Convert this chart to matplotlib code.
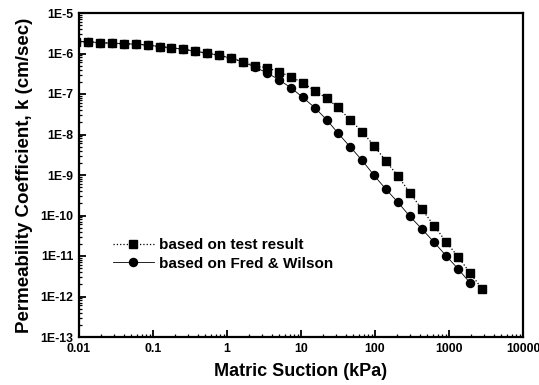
import numpy as np
import matplotlib
matplotlib.use('Agg')
import matplotlib.pyplot as plt
from matplotlib.ticker import FixedLocator, FuncFormatter, LogLocator, NullFormatter

plt.rcParams['font.family'] = ['Liberation Sans', 'DejaVu Sans']
plt.rcParams['font.weight'] = 'bold'

## data
# matric suction (kPa)
suction = [0.0091, 0.0132, 0.0192, 0.0279, 0.0406, 0.0589, 0.0855, 0.124, 0.175,
           0.254, 0.369, 0.537, 0.780, 1.13, 1.64, 2.39, 3.47, 5.04, 7.33, 10.6,
           15.5, 22.4, 31.6, 45.9, 66.7, 96.9, 141, 205, 297, 432, 627, 910,
           1323, 1922, 2792]

# based on test result (cm/sec)
k_test = [1.96e-6, 1.96e-6, 1.85e-6, 1.80e-6, 1.75e-6, 1.70e-6, 1.61e-6, 1.48e-6, 1.39e-6,
          1.28e-6, 1.14e-6, 1.02e-6, 9.07e-7, 7.64e-7, 6.26e-7, 4.98e-7, 4.44e-7, 3.54e-7,
          2.66e-7, 1.88e-7, 1.19e-7, 7.78e-8, 4.65e-8, 2.34e-8, 1.18e-8, 5.31e-9, 2.19e-9,
          9.29e-10, 3.62e-10, 1.41e-10, 5.65e-11, 2.26e-11, 9.61e-12, 3.85e-12, 1.55e-12]

# based on Fred & Wilson (cm/sec), one point fewer
k_fw = [1.96e-6, 1.96e-6, 1.85e-6, 1.80e-6, 1.75e-6, 1.70e-6, 1.61e-6, 1.48e-6, 1.39e-6,
        1.28e-6, 1.14e-6, 1.02e-6, 9.07e-7, 7.64e-7, 6.26e-7, 4.57e-7, 3.34e-7, 2.24e-7,
        1.42e-7, 8.24e-8, 4.52e-8, 2.28e-8, 1.08e-8, 5.01e-9, 2.32e-9, 9.84e-10, 4.42e-10,
        2.10e-10, 9.45e-11, 4.62e-11, 2.20e-11, 1.02e-11, 4.84e-12, 2.17e-12]

x_ticks = [0.01, 0.1, 1, 10, 100, 1000, 10000]
x_labels = ['0.01', '0.1', '1', '10', '100', '1000', '10000']
y_ticks = [1e-13, 1e-12, 1e-11, 1e-10, 1e-9, 1e-8, 1e-7, 1e-6, 1e-5]
y_labels = ['1E-13', '1E-12', '1E-11', '1E-10', '1E-9', '1E-8', '1E-7', '1E-6', '1E-5']

fig = plt.figure(figsize=(5.39, 3.85), dpi=100)
ax = fig.add_axes([79/539, 48/385, 444/539, 324/385])

ax.plot(suction, k_test, color='black', linestyle=':', linewidth=0.9,
        marker='s', markersize=5.2, label='based on test result')
ax.plot(suction[:len(k_fw)], k_fw, color='black', linestyle='-', linewidth=0.6,
        marker='o', markersize=5.8, label='based on Fred & Wilson')

ax.set_xscale('log')
ax.set_yscale('log')
ax.set_xlim(0.01, 10000)
ax.set_ylim(1e-13, 1e-5)

ax.xaxis.set_major_locator(FixedLocator(x_ticks))
ax.xaxis.set_major_formatter(FuncFormatter(lambda v, p: x_labels[x_ticks.index(v)] if v in x_ticks else ''))
ax.yaxis.set_major_locator(FixedLocator(y_ticks))
ax.yaxis.set_major_formatter(FuncFormatter(lambda v, p: y_labels[int(round(np.log10(v))) + 13]))
ax.xaxis.set_minor_locator(LogLocator(base=10, subs=np.arange(2, 10), numticks=20))
ax.yaxis.set_minor_locator(LogLocator(base=10, subs=np.arange(2, 10), numticks=20))
ax.xaxis.set_minor_formatter(NullFormatter())
ax.yaxis.set_minor_formatter(NullFormatter())

ax.tick_params(which='major', direction='in', length=5, width=1.3, labelsize=8.8, pad=4)
ax.tick_params(which='minor', direction='in', length=2.5, width=0.9)
for lab in ax.get_xticklabels() + ax.get_yticklabels():
    lab.set_fontweight('bold')
for s in ax.spines.values():
    s.set_linewidth(1.6)

ax.set_xlabel('Matric Suction (kPa)', fontsize=13, fontweight='bold', labelpad=6)
ax.set_ylabel('Permeability Coefficient, k (cm/sec)', fontsize=13.5, fontweight='bold', labelpad=5)

ax.legend(loc='center left', bbox_to_anchor=(0.045, 0.255), frameon=False,
          handlelength=2.7, handletextpad=0.3, labelspacing=0.3,
          prop={'weight': 'bold', 'size': 11})

fig.savefig('out.png', dpi=100)
